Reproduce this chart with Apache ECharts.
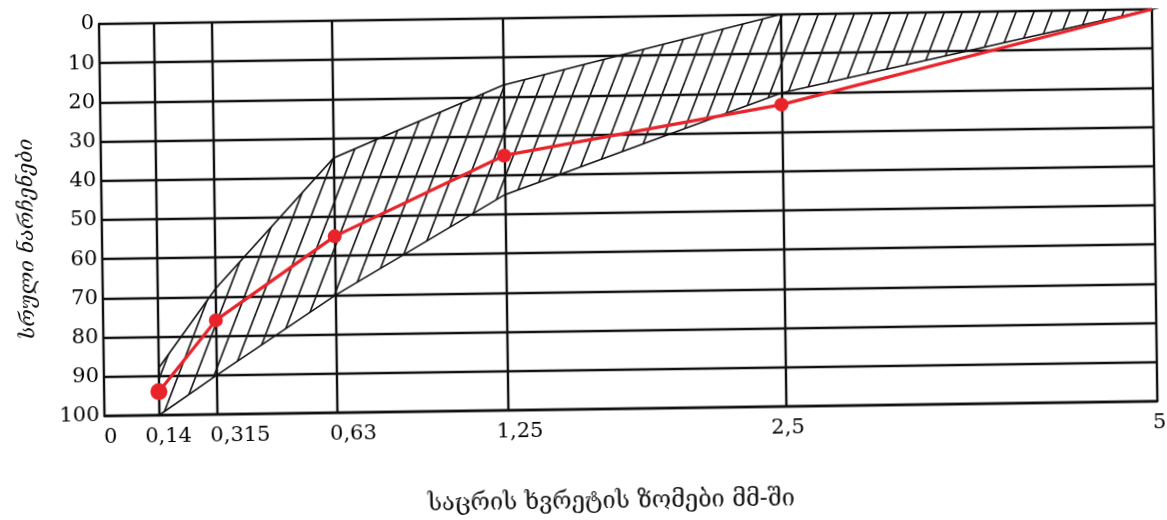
<!DOCTYPE html>
<html><head><meta charset="utf-8">
<script src="https://cdn.jsdelivr.net/npm/echarts@6/dist/echarts.min.js"></script>
<style>
html,body{margin:0;padding:0;background:#fff;overflow:hidden;}
#chart{width:1167px;height:520px;transform:rotate(-0.8deg);transform-origin:99px 24px;}
</style></head><body><div id="chart"></div>
<script>
// sieve sizes (mm) as tick labels, and their place on the drawn (non-uniform) size scale, 0..100
const sieveLabels = ['0', '0,14', '0,315', '0,63', '1,25', '2,5', '5'];
const sieveScale  = [0, 5.2, 10.7, 22.1, 38.3, 64.7, 100];
// full residues, % (at 0.14, 0.315, 0.63, 1.25, 2.5, 5)
const measured   = [94, 76, 55, 35, 23, 0];
const upperBound = [88, 68, 35, 17, 0, 0];
const lowerBound = [100, 90, 70, 45, 20, 0];
const yTicks = [0, 10, 20, 30, 40, 50, 60, 70, 80, 90, 100];
const xTitle = 'საცრის ხვრეტის ზომები მმ-ში';
const yTitle = 'სრული ნარჩენები';

function hatchPattern() {
  const w = 18, h = 45;
  const c = document.createElement('canvas');
  c.width = w; c.height = h;
  const g = c.getContext('2d');
  g.strokeStyle = '#1a1a1a';
  g.lineWidth = 1.7;
  for (const o of [-w, 0, w]) {
    g.beginPath(); g.moveTo(o, h); g.lineTo(o + w, 0); g.stroke();
  }
  return c;
}
const pattern = { image: hatchPattern(), repeat: 'repeat' };

const xs = sieveScale.slice(1);
const labelShift = [6, 9, 23, 16, 12, 2, 2];
const rich = {};
labelShift.forEach((s, i) => { rich['o' + i] = { padding: [0, 0, 0, 2 * s], fontFamily: 'DejaVu Serif', fontSize: 21, color: '#000' }; });

const chart = echarts.init(document.getElementById('chart'), null, { renderer: 'canvas' });
chart.setOption({
  animation: false,
  backgroundColor: '#fff',
  grid: { left: 99, top: 24, width: 1053, height: 392, containLabel: false, outerBoundsMode: 'none' },
  xAxis: {
    type: 'value', min: 0, max: 100,
    name: xTitle, nameLocation: 'middle', nameGap: 81,
    nameTextStyle: { fontFamily: 'DejaVu Serif', fontSize: 23.5, color: '#111', padding: [0, 42, 0, 0] },
    axisLine: { show: true, onZero: false, lineStyle: { color: '#111', width: 2.4 } },
    axisTick: { show: false },
    splitLine: { show: false },
    axisLabel: {
      customValues: sieveScale, margin: 11, rich: rich,
      formatter: v => { const i = sieveScale.indexOf(v); return '{o' + i + '|' + sieveLabels[i] + '}'; }
    }
  },
  yAxis: {
    type: 'value', inverse: true, min: 0, max: 100, interval: 10,
    name: yTitle, nameLocation: 'middle', nameGap: 64,
    nameTextStyle: { fontFamily: 'DejaVu Serif', fontSize: 21, fontStyle: 'italic', color: '#111', padding: [0, 36, 0, 0] },
    axisLine: { show: true, lineStyle: { color: '#111', width: 2.4 } },
    axisTick: { show: false },
    splitLine: { show: true, lineStyle: { color: '#111', width: 2.4 } },
    axisLabel: {
      margin: 5, fontFamily: 'DejaVu Serif', fontSize: 21, color: '#000', padding: [8, 0, 0, 0],
      formatter: v => yTicks.includes(v) ? String(v) : ''
    }
  },
  series: [
    {
      name: 'grid', type: 'line', data: [], z: 2,
      markLine: {
        silent: true, symbol: ['none', 'none'], label: { show: false },
        lineStyle: { type: 'solid', color: '#111', width: 2.4 },
        data: xs.map(x => ({ xAxis: x }))
      }
    },
    {
      name: 'band', type: 'custom', z: 3,
      data: [[xs[0], upperBound[0]]],
      renderItem: (params, api) => {
        const top = xs.map((x, i) => api.coord([x, upperBound[i]]));
        const bot = xs.map((x, i) => api.coord([x, lowerBound[i]])).reverse();
        return {
          type: 'polygon',
          shape: { points: top.concat(bot) },
          style: { fill: pattern, stroke: '#111', lineWidth: 1.6 }
        };
      }
    },
    {
      name: 'measured', type: 'line', z: 5,
      symbol: 'circle',
      symbolSize: (v, p) => p.dataIndex === 0 ? 17 : 14,
      data: xs.map((x, i) => i === xs.length - 1 ? { value: [x, measured[i]], symbol: 'none' } : [x, measured[i]]),
      lineStyle: { color: '#e8232a', width: 3.2 },
      itemStyle: { color: '#e8232a' }
    }
  ]
});
</script></body></html>
